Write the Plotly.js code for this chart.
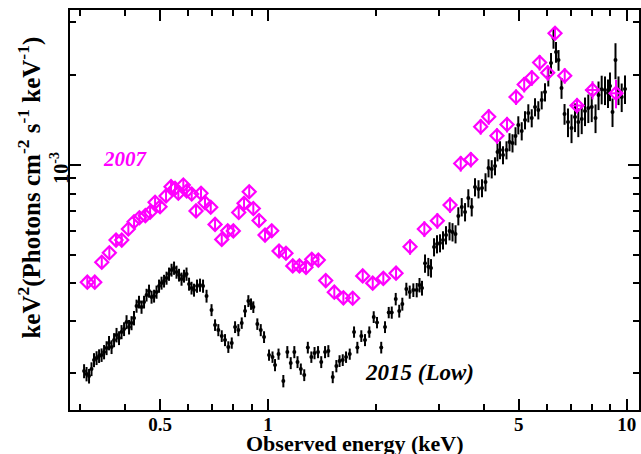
<!DOCTYPE html>
<html>
<head>
<meta charset="utf-8">
<script src="https://cdn.plot.ly/plotly-3.0.1.min.js"></script>
<style>html,body{margin:0;padding:0;background:#fff;}#chart{width:641px;height:454px;}</style>
</head>
<body>
<div id="chart"></div>
<script>
// 2015 (Low) spectrum: energy (keV), flux keV^2 (photons cm^-2 s^-1 keV^-1), 1-sigma error
const energy2015 = [0.3071,0.3120,0.3170,0.3221,0.3273,0.3327,0.3381,0.3436,0.3491,0.3548,0.3604,0.3663,0.3722,0.3782,0.3843,0.3905,0.3969,0.4033,0.4098,0.4164,0.4231,
0.4300,0.4369,0.4440,0.4512,0.4585,0.4659,0.4735,0.4812,0.4889,0.4968,0.5049,0.5130,0.5213,0.5297,0.5383,0.5470,0.5558,0.5648,0.5740,0.5832,0.5927,0.6023,0.6120,0.6219,0.6340,0.6463,0.6589,0.6739,
0.6958,0.7117,0.7269,0.7430,0.7588,0.7750,0.7923,0.8093,0.8266,0.8447,0.8628,0.8814,0.8966,0.9100,0.9336,0.9543,0.9747,
1.0064,1.0292,1.0459,1.0697,1.1031,1.1318,1.1567,1.1838,1.2083,1.2342,1.2616,1.2910,1.3204,1.3478,1.3785,1.4070,1.4418,1.4727,1.5147,1.5503,1.5825,1.6153,1.6499,1.6895,1.7368,1.7740,1.8197,1.8634,1.9156,1.9705,2.0128,2.0678,2.1189,2.1698,2.2122,2.2695,2.3211,2.3677,2.4294,2.4827,2.5410,2.5967,2.6438,2.6866,
2.7390,2.7977,2.8465,2.9020,2.9580,3.0157,3.0739,3.1340,3.2055,3.2675,3.3313,3.3916,3.4666,3.5408,3.6165,3.6957,3.7749,3.8609,3.9481,4.0381,4.1169,4.2021,4.2921,4.3609,4.4317,4.5182,4.6204,4.7107,4.8017,4.8955,4.9842,5.0944,5.2035,5.3149,5.4325,5.5489,5.6677,5.7918,5.9156,6.0424,
6.1489,6.2475,6.3489,6.4520,6.5770,6.7054,
6.8570,7.0134,7.1721,7.3258,7.4877,7.6480,7.8117,7.9845,8.1816,8.3400,8.5114,8.6955,8.8633,8.9784,9.1244,9.2999,9.4819,9.6782,9.8855];
const flux2015 = [2.035e-4,1.989e-4,1.958e-4,2.067e-4,2.216e-4,2.251e-4,2.286e-4,2.303e-4,2.357e-4,2.431e-4,2.527e-4,2.450e-4,2.586e-4,2.688e-4,2.626e-4,2.751e-4,2.815e-4,2.971e-4,2.858e-4,2.948e-4,3.064e-4,
3.361e-4,3.467e-4,3.335e-4,3.467e-4,3.659e-4,3.774e-4,3.602e-4,3.631e-4,3.745e-4,3.922e-4,4.014e-4,4.076e-4,4.171e-4,4.302e-4,4.437e-4,4.506e-4,4.369e-4,4.269e-4,4.140e-4,4.236e-4,4.302e-4,3.983e-4,3.862e-4,3.803e-4,3.922e-4,3.952e-4,3.922e-4,3.630e-4,
3.259e-4,2.903e-4,2.793e-4,2.667e-4,2.586e-4,2.450e-4,2.527e-4,2.858e-4,2.793e-4,2.948e-4,3.234e-4,3.494e-4,3.413e-4,3.335e-4,2.925e-4,2.793e-4,2.646e-4,
2.303e-4,2.267e-4,2.132e-4,2.320e-4,1.884e-4,2.357e-4,2.165e-4,2.357e-4,2.182e-4,2.067e-4,1.973e-4,2.440e-4,2.267e-4,2.339e-4,2.357e-4,2.182e-4,2.357e-4,2.375e-4,1.943e-4,2.115e-4,2.199e-4,2.216e-4,2.267e-4,2.320e-4,2.751e-4,2.440e-4,2.667e-4,2.586e-4,2.751e-4,3.088e-4,2.959e-4,2.440e-4,2.858e-4,3.197e-4,3.197e-4,3.548e-4,3.234e-4,3.413e-4,3.832e-4,3.745e-4,3.803e-4,3.803e-4,3.952e-4,3.862e-4,
4.673e-4,4.551e-4,4.506e-4,5.299e-4,5.423e-4,5.465e-4,5.593e-4,5.812e-4,5.995e-4,5.949e-4,5.858e-4,6.730e-4,7.218e-4,6.946e-4,7.735e-4,7.218e-4,8.419e-4,8.290e-4,8.353e-4,8.750e-4,9.748e-4,9.674e-4,9.900e-4,1.103e-3,1.120e-3,1.078e-3,1.120e-3,1.192e-3,1.182e-3,1.248e-3,1.358e-3,1.297e-3,1.412e-3,1.490e-3,1.434e-3,1.561e-3,1.525e-3,1.647e-3,1.752e-3,1.967e-3,
2.192e-3,2.660e-3,2.387e-3,2.243e-3,1.807e-3,1.479e-3,
1.390e-3,1.327e-3,1.445e-3,1.390e-3,1.423e-3,1.513e-3,1.549e-3,1.561e-3,1.434e-3,1.712e-3,1.790e-3,1.780e-3,1.739e-3,1.835e-3,1.502e-3,2.243e-3,1.780e-3,1.686e-3,1.794e-3];
const err2015 = [0.11e-4,0.11e-4,0.11e-4,0.11e-4,0.12e-4,0.12e-4,0.12e-4,0.12e-4,0.13e-4,0.13e-4,0.14e-4,0.13e-4,0.14e-4,0.15e-4,0.14e-4,0.15e-4,0.15e-4,0.16e-4,0.16e-4,0.16e-4,0.17e-4,
0.17e-4,0.17e-4,0.17e-4,0.17e-4,0.18e-4,0.19e-4,0.18e-4,0.18e-4,0.19e-4,0.20e-4,0.20e-4,0.20e-4,0.21e-4,0.22e-4,0.22e-4,0.23e-4,0.22e-4,0.21e-4,0.21e-4,0.21e-4,0.22e-4,0.20e-4,0.19e-4,0.19e-4,0.20e-4,0.20e-4,0.20e-4,0.18e-4,
0.15e-4,0.13e-4,0.13e-4,0.12e-4,0.12e-4,0.11e-4,0.11e-4,0.13e-4,0.13e-4,0.13e-4,0.15e-4,0.16e-4,0.15e-4,0.15e-4,0.13e-4,0.13e-4,0.12e-4,
0.10e-4,0.10e-4,0.10e-4,0.10e-4,0.09e-4,0.11e-4,0.10e-4,0.11e-4,0.10e-4,0.09e-4,0.09e-4,0.11e-4,0.10e-4,0.11e-4,0.11e-4,0.10e-4,0.11e-4,0.11e-4,0.09e-4,0.10e-4,0.10e-4,0.10e-4,0.10e-4,0.10e-4,0.12e-4,0.11e-4,0.12e-4,0.12e-4,0.12e-4,0.14e-4,0.13e-4,0.11e-4,0.13e-4,0.14e-4,0.15e-4,0.17e-4,0.16e-4,0.17e-4,0.19e-4,0.19e-4,0.20e-4,0.21e-4,0.22e-4,0.22e-4,
0.33e-4,0.32e-4,0.32e-4,0.37e-4,0.38e-4,0.38e-4,0.39e-4,0.41e-4,0.42e-4,0.42e-4,0.41e-4,0.47e-4,0.51e-4,0.49e-4,0.54e-4,0.51e-4,0.59e-4,0.58e-4,0.58e-4,0.61e-4,0.68e-4,0.68e-4,0.69e-4,0.77e-4,0.78e-4,0.75e-4,0.78e-4,0.83e-4,0.83e-4,0.87e-4,0.95e-4,0.91e-4,0.99e-4,1.04e-4,1.00e-4,1.09e-4,1.07e-4,1.15e-4,1.23e-4,1.38e-4,
1.75e-4,2.13e-4,1.91e-4,1.79e-4,1.45e-4,1.18e-4,
1.53e-4,1.46e-4,1.59e-4,1.53e-4,1.57e-4,1.66e-4,1.70e-4,1.72e-4,1.58e-4,1.88e-4,1.97e-4,1.96e-4,1.91e-4,2.02e-4,1.65e-4,3.10e-4,1.96e-4,1.85e-4,1.97e-4];

// 2007 spectrum
const energy2007 = [0.3135,0.3289,0.3440,0.3611,0.3770,0.3911,0.4080,0.4232,0.4379,0.4550,0.4690,0.4843,0.5000,0.5196,0.5366,0.5505,0.5623,0.5806,0.5934,0.6127,0.6299,0.6504,0.6673,0.6923,0.7117,0.7430,0.7721,0.8003,0.8285,0.8572,0.8862,0.9099,0.9439,0.9809,1.024,1.073,1.122,1.172,1.223,1.276,1.324,1.381,1.448,1.530,1.622,1.722,1.836,1.958,2.096,2.274,2.488,2.727,2.964,3.216,3.444,3.675,3.915,4.122,4.346,4.636,4.912,5.176,5.435,5.715,6.020,6.308,6.714,7.265,8.025,9.331];
const flux2007 = [4.04e-4,4.04e-4,4.71e-4,5.07e-4,5.59e-4,5.59e-4,6.09e-4,6.44e-4,6.64e-4,6.75e-4,6.93e-4,7.48e-4,7.23e-4,7.86e-4,8.44e-4,8.33e-4,8.02e-4,8.55e-4,8.16e-4,7.98e-4,7.00e-4,8.02e-4,7.46e-4,7.20e-4,6.31e-4,5.62e-4,6.01e-4,6.00e-4,6.92e-4,7.42e-4,8.12e-4,7.13e-4,6.50e-4,5.81e-4,6.01e-4,5.14e-4,5.05e-4,4.58e-4,4.58e-4,4.53e-4,4.82e-4,4.79e-4,4.09e-4,3.74e-4,3.58e-4,3.57e-4,4.24e-4,4.01e-4,4.16e-4,4.33e-4,5.31e-4,6.09e-4,6.49e-4,7.33e-4,1.009e-3,1.041e-3,1.341e-3,1.448e-3,1.250e-3,1.364e-3,1.686e-3,1.857e-3,1.955e-3,2.200e-3,2.032e-3,2.756e-3,1.987e-3,1.579e-3,1.780e-3,1.735e-3];
const err2007 = [0.16e-4,0.16e-4,0.19e-4,0.20e-4,0.22e-4,0.22e-4,0.24e-4,0.26e-4,0.27e-4,0.27e-4,0.28e-4,0.30e-4,0.29e-4,0.31e-4,0.34e-4,0.33e-4,0.32e-4,0.34e-4,0.33e-4,0.32e-4,0.28e-4,0.32e-4,0.30e-4,0.29e-4,0.25e-4,0.22e-4,0.24e-4,0.24e-4,0.28e-4,0.30e-4,0.32e-4,0.29e-4,0.26e-4,0.29e-4,0.30e-4,0.26e-4,0.25e-4,0.23e-4,0.23e-4,0.23e-4,0.24e-4,0.24e-4,0.20e-4,0.19e-4,0.18e-4,0.18e-4,0.21e-4,0.20e-4,0.21e-4,0.22e-4,0.32e-4,0.37e-4,0.39e-4,0.44e-4,0.61e-4,0.62e-4,0.80e-4,0.87e-4,0.75e-4,0.82e-4,1.01e-4,1.11e-4,1.17e-4,1.32e-4,1.22e-4,1.38e-4,1.19e-4,0.95e-4,1.25e-4,1.90e-4];
const xerr2007 = [0,0,0,0,0,0,0,0,0,0,0,0,0,0,0,0,0,0,0,0,0,0,0,0,0,0,0,0,0,0,0,0,0,0,0,0,0,0,0,0,0,0,0,0,0,0,0,0,0,0,0,0,0,0,0,0,0,0,0,0,0,0,0,0,0,0,0,0.285,0.368,0.304];

// axis ticks
const xTicks = [0.3, 0.4, 0.5, 0.6, 0.7, 0.8, 0.9, 1, 2, 3, 4, 5, 6, 7, 8, 9, 10];
const xTickText = ['', '', '<b>0.5</b>', '', '', '', '', '<b>1</b>', '', '', '', '<b>5</b>', '', '', '', '', '<b>10</b>'];
const xMajor = [0.5, 1, 5, 10];
const yTicks = [2e-4, 3e-4, 4e-4, 5e-4, 6e-4, 7e-4, 8e-4, 9e-4, 1e-3, 2e-3, 3e-3];
const yMajor = [1e-3];

const MAG = '#ff00ff';
const FONT = 'Liberation Serif';
const XR = [-0.552, 1.034];
const YR = [-3.822, -2.4816];

const traces = [
  {
    x: energy2015, y: flux2015, type: 'scatter', mode: 'markers', name: '2015 (Low)',
    marker: {symbol: 'circle', size: 4, color: '#000'},
    error_y: {type: 'data', array: err2015, visible: true, color: '#000', thickness: 2, width: 0},
    hoverinfo: 'x+y'
  },
  {
    x: energy2007, y: flux2007, type: 'scatter', mode: 'markers', name: '2007',
    xaxis: 'x2', yaxis: 'y2',
    marker: {symbol: 'diamond-open', size: 10, color: MAG, line: {color: MAG, width: 2.2}},
    error_y: {type: 'data', array: err2007, visible: true, color: MAG, thickness: 2, width: 0},
    error_x: {type: 'data', array: xerr2007, visible: true, color: MAG, thickness: 2, width: 0},
    hoverinfo: 'x+y'
  }
];

const baseAxis = (range) => ({
  type: 'log', range: range, tickmode: 'array',
  showline: true, linecolor: '#000', linewidth: 2, mirror: 'allticks',
  ticks: 'inside', tickwidth: 2, tickcolor: '#000',
  showgrid: false, zeroline: false
});

const layout = {
  width: 641, height: 454,
  margin: {l: 70, r: 2, t: 10, b: 44},
  paper_bgcolor: '#fff', plot_bgcolor: '#fff',
  showlegend: false,
  font: {family: FONT, color: '#000'},
  xaxis: Object.assign(baseAxis(XR), {
    tickvals: xTicks, ticktext: xTickText, ticklen: 6,
    tickfont: {family: FONT, size: 19, weight: 700, color: '#000'},
    ticklabelstandoff: -4
  }),
  yaxis: Object.assign(baseAxis(YR), {
    tickvals: yTicks, showticklabels: false, ticklen: 6
  }),
  xaxis2: Object.assign(baseAxis(XR), {
    tickvals: xMajor, showticklabels: false, ticklen: 11,
    overlaying: 'x', anchor: 'y2', side: 'bottom'
  }),
  yaxis2: Object.assign(baseAxis(YR), {
    tickvals: yMajor, showticklabels: false, ticklen: 11,
    overlaying: 'y', anchor: 'x2', side: 'left'
  }),
  annotations: [
    {text: '10<sup>-3</sup>', xref: 'paper', yref: 'y', x: -0.0194, y: -3, yshift: -3,
     textangle: -90, showarrow: false, xanchor: 'center', yanchor: 'middle',
     font: {family: FONT, size: 20, weight: 700, color: '#000'}},
    {text: 'keV<sup>2</sup>(Photons cm<sup>-2</sup> s<sup>-1</sup> keV<sup>-1</sup>)', xref: 'paper', yref: 'paper',
     x: -0.0704, y: 0.556, textangle: -90, showarrow: false, xanchor: 'center', yanchor: 'middle',
     font: {family: FONT, size: 25, weight: 700, color: '#000'}},
    {text: 'Observed energy (keV)', xref: 'paper', yref: 'paper', x: 0.5, y: -0.0825,
     showarrow: false, xanchor: 'center', yanchor: 'middle',
     font: {family: FONT, size: 22, weight: 700, color: '#000'}},
    {text: '<i>2007</i>', xref: 'x', yref: 'y', x: Math.log10(0.3995), y: Math.log10(1.044e-3),
     showarrow: false, xanchor: 'center', yanchor: 'middle',
     font: {family: FONT, size: 21, weight: 700, color: MAG}},
    {text: '<i>2015 (Low)</i>', xref: 'x', yref: 'y', x: Math.log10(2.636), y: Math.log10(2.02e-4),
     showarrow: false, xanchor: 'center', yanchor: 'middle',
     font: {family: FONT, size: 23, weight: 700, color: '#000'}}
  ]
};

Plotly.newPlot('chart', traces, layout, {displayModeBar: false, staticPlot: true});
</script>
</body>
</html>
